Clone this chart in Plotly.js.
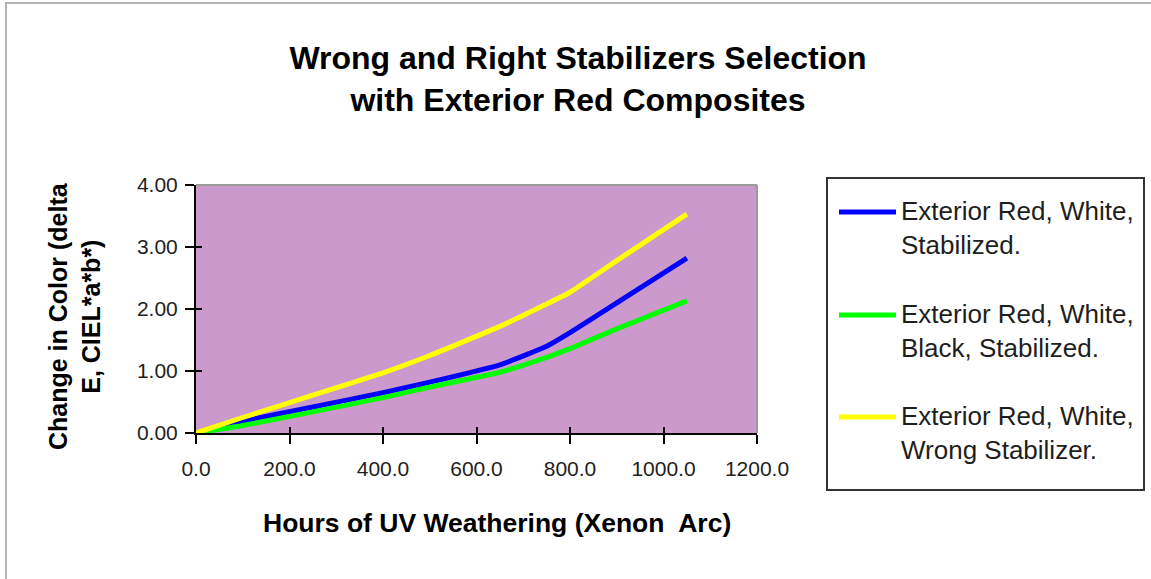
<!DOCTYPE html>
<html>
<head>
<meta charset="utf-8">
<script src="https://cdn.plot.ly/plotly-3.0.1.min.js"></script>
<style>
  html, body { margin: 0; padding: 0; background: #ffffff; }
  #chart { width: 1151px; height: 579px; }
</style>
</head>
<body>
<div id="chart"></div>
<script>
// Hours of xenon-arc exposure and colour change (delta E, CIEL*a*b*) per formulation
const hours = [0, 100, 250, 400, 500, 650, 750, 800, 900, 1050];
const stabilizedWhite = [0, 0.19, 0.42, 0.65, 0.82, 1.10, 1.40, 1.62, 2.10, 2.82];
const stabilizedWhiteBlack = [0, 0.12, 0.34, 0.57, 0.74, 0.98, 1.22, 1.36, 1.68, 2.13];
const wrongStabilizer = [0, 0.25, 0.61, 0.97, 1.25, 1.72, 2.08, 2.27, 2.78, 3.53];

const seriesNames = [
  'Exterior Red, White,<br>Stabilized.',
  'Exterior Red, White,<br>Black, Stabilized.',
  'Exterior Red, White,<br>Wrong Stabilizer.'
];
const seriesValues = [stabilizedWhite, stabilizedWhiteBlack, wrongStabilizer];
const seriesColors = ['#0000FF', '#00FF00', '#FFFF00'];

const xTickValues = [0, 200, 400, 600, 800, 1000, 1200];
const yTickValues = [0, 1, 2, 3, 4];

// Page geometry (pixels) used to place the frame, titles and key
const W = 1151, H = 579;
const M = { l: 196, r: 394, t: 185, b: 146 };
const PW = W - M.l - M.r, PH = H - M.t - M.b;
const px = x => (x - M.l) / PW;          // page x -> paper x
const py = y => (H - M.b - y) / PH;      // page y -> paper y

const FONT = '"Liberation Sans", Arial, sans-serif';

const traces = seriesValues.map((vals, i) => ({
  type: 'scatter',
  mode: 'lines',
  x: hours,
  y: vals,
  name: seriesNames[i],
  line: { color: seriesColors[i], width: 5, shape: 'spline', smoothing: 0.4 },
  showlegend: false,
  hoverinfo: 'x+y'
}));

const shapes = [
  // outer frame: grey rule on the top and left edges
  { type: 'line', xref: 'paper', yref: 'paper', x0: px(6), x1: px(6), y0: py(2), y1: py(H + 5),
    line: { color: '#b4b4b4', width: 2 } },
  { type: 'line', xref: 'paper', yref: 'paper', x0: px(5), x1: px(W + 5), y0: py(3), y1: py(3),
    line: { color: '#b4b4b4', width: 2 } },
  // plot area border on the top and right
  { type: 'line', xref: 'paper', yref: 'paper', x0: 0, x1: 1, y0: 1, y1: 1,
    line: { color: '#9a9a9a', width: 2 } },
  { type: 'line', xref: 'paper', yref: 'paper', x0: 1, x1: 1, y0: 0, y1: 1,
    line: { color: '#9a9a9a', width: 2 } },
  // key box
  { type: 'rect', xref: 'paper', yref: 'paper', x0: px(827), x1: px(1144), y0: py(178), y1: py(490),
    line: { color: '#333333', width: 2 }, fillcolor: 'rgba(255,255,255,0)' }
];

const keyRows = [212, 315, 417];
const annotations = [
  {
    xref: 'paper', yref: 'paper', x: px(74), y: py(316),
    text: '<b>Change in Color (delta<br>E, CIEL*a*b*)</b>',
    textangle: -90, showarrow: false, xanchor: 'center', yanchor: 'middle',
    font: { family: FONT, size: 25, color: '#000000' }
  },
  {
    xref: 'paper', yref: 'paper', x: px(497), y: py(523),
    text: '<b>Hours of UV Weathering (Xenon  Arc)</b>',
    showarrow: false, xanchor: 'center', yanchor: 'middle',
    font: { family: FONT, size: 26.5, color: '#000000' }
  }
];

keyRows.forEach((yRow, i) => {
  shapes.push({
    type: 'line', xref: 'paper', yref: 'paper',
    x0: px(839), x1: px(896), y0: py(yRow), y1: py(yRow),
    line: { color: seriesColors[i], width: 5 }
  });
  annotations.push({
    xref: 'paper', yref: 'paper', x: px(900), y: py(yRow - 17),
    text: seriesNames[i], showarrow: false, align: 'left',
    xanchor: 'left', yanchor: 'top', borderpad: 0,
    font: { family: FONT, size: 26, color: '#1e1e1e' }
  });
});

const layout = {
  width: W,
  height: H,
  margin: M,
  paper_bgcolor: '#ffffff',
  plot_bgcolor: '#CC99CC',
  font: { family: FONT, color: '#1e1e1e' },
  title: {
    text: '<b>Wrong and Right Stabilizers Selection<br>with Exterior Red Composites</b>',
    font: { family: FONT, size: 32, color: '#000000' },
    x: 578 / W, xanchor: 'center',
    yref: 'container', y: 1 - 69 / H, yanchor: 'middle'
  },
  xaxis: {
    range: [0, 1200],
    tickvals: xTickValues,
    tickformat: '.1f',
    ticks: 'outside', ticklen: 9, tickwidth: 2, tickcolor: '#000000',
    showline: true, linecolor: '#000000', linewidth: 2,
    showgrid: false, zeroline: false,
    tickfont: { family: FONT, size: 21, color: '#1e1e1e' },
    ticklabelstandoff: 7,
    fixedrange: true
  },
  yaxis: {
    range: [0, 4],
    tickvals: yTickValues,
    tickformat: '.2f',
    ticks: 'outside', ticklen: 9, tickwidth: 2, tickcolor: '#000000',
    showline: true, linecolor: '#000000', linewidth: 2,
    showgrid: false, zeroline: false,
    tickfont: { family: FONT, size: 21, color: '#1e1e1e' },
    ticklabelstandoff: 3,
    fixedrange: true
  },
  // inner halves of the cross ticks
  xaxis2: {
    overlaying: 'x', anchor: 'y', side: 'bottom',
    range: [0, 1200], tickvals: xTickValues,
    ticks: 'inside', ticklen: 6, tickwidth: 2, tickcolor: '#000000',
    showticklabels: false, showgrid: false, zeroline: false, showline: false,
    fixedrange: true
  },
  yaxis2: {
    overlaying: 'y', anchor: 'x', side: 'left',
    range: [0, 4], tickvals: yTickValues,
    ticks: 'inside', ticklen: 6, tickwidth: 2, tickcolor: '#000000',
    showticklabels: false, showgrid: false, zeroline: false, showline: false,
    fixedrange: true
  },
  shapes: shapes,
  annotations: annotations,
  showlegend: false
};

// invisible carrier so the overlay axes are drawn
traces.push({
  type: 'scatter', mode: 'lines', x: [], y: [],
  xaxis: 'x2', yaxis: 'y2', showlegend: false, hoverinfo: 'skip'
});

Plotly.newPlot('chart', traces, layout, { displayModeBar: false, staticPlot: true });
</script>
</body>
</html>
